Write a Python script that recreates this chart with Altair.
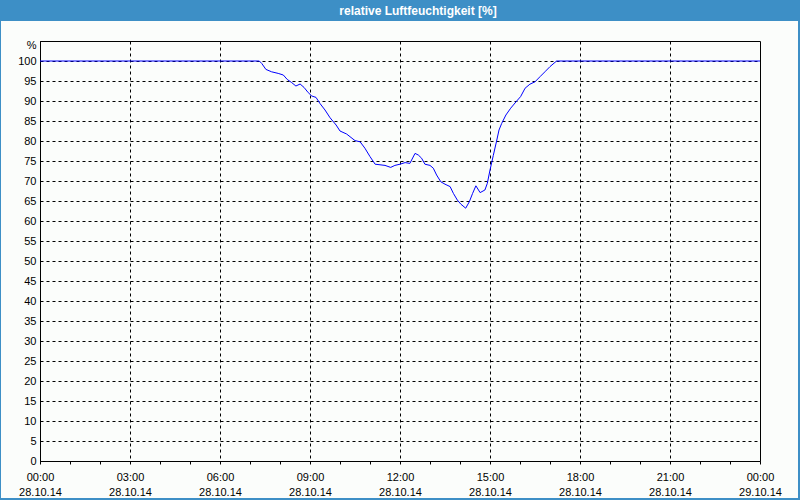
import altair as alt
import pandas as pd

# Time of day in hours (28.10.14) and relative humidity in %
hours = [0, 7.31, 7.39, 7.53, 7.72, 7.94, 8.11, 8.24, 8.39, 8.53, 8.67, 8.80, 8.94,
         9.06, 9.20, 9.33, 9.50, 9.67, 9.87, 10.0, 10.22, 10.5, 10.67, 10.83, 11.0,
         11.17, 11.5, 11.69, 11.83, 12.0, 12.17, 12.33, 12.5, 12.61, 12.72, 12.83,
         13.0, 13.11, 13.22, 13.36, 13.5, 13.67, 13.78, 13.91, 14.03, 14.19, 14.31,
         14.42, 14.53, 14.67, 14.83, 14.91, 15.0, 15.11, 15.22, 15.3, 15.39, 15.53,
         15.69, 15.89, 16.02, 16.17, 16.33, 16.5, 16.67, 16.83, 17.0, 17.22, 24]
humidity = [100, 100, 99.4, 97.9, 97.3, 96.9, 96.5, 95.4, 94.6, 93.75, 94.25, 93.4, 92.1,
            91.25, 90.9, 89.4, 87.75, 85.8, 84.0, 82.5, 81.75, 80.1, 79.8, 78.2, 76.1,
            74.2, 73.9, 73.4, 73.9, 74.2, 74.6, 74.4, 76.9, 76.5, 75.7, 74.2,
            73.9, 73.2, 71.5, 69.8, 69.2, 68.6, 66.9, 65.25, 64.2, 63.2, 64.8,
            66.9, 68.8, 67.1, 67.75, 69.4, 72.75, 76.4, 80.0, 82.75, 84.4, 86.5,
            88.2, 90.0, 91.1, 93.2, 94.2, 94.8, 96.1, 97.3, 98.6, 100, 100]
title_text = "relative Luftfeuchtigkeit [%]"
y_ticks = list(range(0, 110, 5))
x_ticks = list(range(0, 25))

df = pd.DataFrame({"h": hours, "v": humidity})
one = pd.DataFrame({"a": [0]})

FONT = "Liberation Sans"
BLUE = "#3d8fc6"

line = alt.Chart(df).mark_line(color="#0000ff", strokeWidth=1).encode(
    x=alt.X("h:Q", scale=alt.Scale(domain=[0, 24], nice=False, zero=False),
            axis=alt.Axis(
                values=x_ticks, title=None, grid=True,
                gridOpacity={"expr": "(datum.value % 3 == 0 && datum.value > 0 && datum.value < 24) ? 1 : 0"},
                labelExpr="datum.value % 3 == 0 ? [((datum.value % 24) < 10 ? '0' : '') + (datum.value % 24) + ':00', datum.value == 24 ? '29.10.14' : '28.10.14'] : ''",
                labelOverlap=False, labelFlush=False, tickSize=3, labelPadding=7,
                labelLineHeight=15)),
    y=alt.Y("v:Q", scale=alt.Scale(domain=[0, 105], nice=False),
            axis=alt.Axis(values=y_ticks + [105], title=None, grid=True, ticks=False,
                          labelExpr="datum.value == 105 ? '%' : datum.label",
                          labelOffset={"expr": "datum.value == 105 ? 4 : 0"},
                          labelOverlap=False, labelFlush=False, labelPadding=4)),
)

title_bar = alt.Chart(one).mark_rect(color=BLUE).encode(
    x=alt.value(-40), x2=alt.value(760), y=alt.value(-41), y2=alt.value(-20))
left_b = alt.Chart(one).mark_rect(color=BLUE).encode(
    x=alt.value(-40), x2=alt.value(-39), y=alt.value(-41), y2=alt.value(459))
right_b = alt.Chart(one).mark_rect(color=BLUE).encode(
    x=alt.value(758), x2=alt.value(760), y=alt.value(-41), y2=alt.value(459))
bottom_b = alt.Chart(one).mark_rect(color=BLUE).encode(
    x=alt.value(-40), x2=alt.value(760), y=alt.value(457), y2=alt.value(459))
title = alt.Chart(one).mark_text(
    text=title_text, color="white", font=FONT, fontSize=12, fontWeight="bold",
    align="center", baseline="middle").encode(x=alt.value(378), y=alt.value(-30.5))

chart = alt.layer(line, title_bar, left_b, right_b, bottom_b, title).properties(
    width=720, height=420,
    autosize=alt.AutoSizeParams(type="none"),
    padding={"left": 40, "top": 41, "right": 40, "bottom": 39},
    background="#fbfdfb",
).configure_view(stroke="black", strokeWidth=1).configure_axis(
    domainColor="black", domainWidth=1, tickColor="black", gridColor="black",
    gridDash=[3, 3], gridWidth=1, labelColor="black", labelFont=FONT, labelFontSize=11,
)

chart.save("out.html", embed_options={"renderer": "svg", "actions": False})
